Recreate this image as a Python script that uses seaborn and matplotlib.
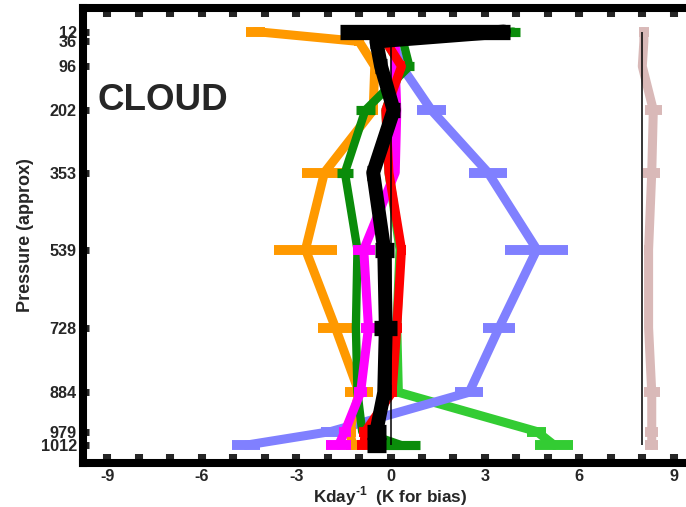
import numpy as np
import pandas as pd
import matplotlib
matplotlib.use("Agg")
import matplotlib.pyplot as plt
import seaborn as sns

# Pressure levels (hPa) and profile values (K/day, K for bias)
levels = [12, 36, 96, 202, 353, 539, 728, 884, 979, 1012]
level_labels = ["12", "36", "96", "202", "353", "539", "728", "884", "979", "1012"]

orange = [-4.3, -1.0, -0.5, -0.55, -2.1, -2.7, -1.75, -1.0, -1.3, -1.2]
orange_err = [0.3, 0.15, 0.1, 0.15, 0.7, 1.0, 0.55, 0.45, 0.2, 0.2]

purple = [0.1, 0.1, 0.35, 1.3, 3.1, 4.65, 3.45, 2.5, -1.9, -4.6]
purple_err = [0.1, 0.1, 0.1, 0.45, 0.6, 1.0, 0.5, 0.45, 0.3, 0.45]

darkgreen = [3.9, 0.4, 0.6, -0.8, -1.45, -1.05, -1.1, -1.05, -0.9, 0.35]
darkgreen_err = [0.2, 0.1, 0.15, 0.3, 0.25, 0.1, 0.1, 0.1, 0.1, 0.6]

lightgreen = [0.0, -0.15, 0.35, -0.15, -0.05, 0.3, 0.2, 0.25, 4.65, 5.2]
lightgreen_err = [0.1, 0.1, 0.1, 0.1, 0.1, 0.1, 0.1, 0.1, 0.3, 0.6]

red = [0.0, -0.15, 0.35, -0.15, -0.05, 0.35, 0.2, 0.05, -0.8, -0.85]
red_err = [0.9, 0.1, 0.1, 0.1, 0.1, 0.15, 0.15, 0.15, 0.2, 0.2]

magenta = [0.15, 0.15, 0.15, 0.2, 0.15, -0.85, -0.7, -0.95, -1.45, -1.65]
magenta_err = [0.1, 0.1, 0.1, 0.1, 0.1, 0.35, 0.25, 0.2, 0.2, 0.4]

black = [3.6, -0.45, -0.3, 0.1, -0.55, -0.2, -0.15, -0.2, -0.45, -0.45]
black_err_lo = [5.2, 0.2, 0.2, 0.2, 0.2, 0.3, 0.37, 0.2, 0.3, 0.3]
black_err_hi = [0.2, 0.2, 0.2, 0.2, 0.2, 0.3, 0.37, 0.2, 0.3, 0.3]

bias = [8.05, 8.05, 8.0, 8.35, 8.3, 8.2, 8.2, 8.3, 8.3, 8.3]
bias_err = [0.15, 0.1, 0.1, 0.27, 0.27, 0.15, 0.1, 0.25, 0.2, 0.2]
bias_ref = 8.0

sns.set_style("white")
plt.rcParams["font.family"] = ["Liberation Sans", "DejaVu Sans"]
plt.rcParams["font.weight"] = "bold"
plt.rcParams["axes.unicode_minus"] = False
plt.rcParams["mathtext.fontset"] = "custom"
plt.rcParams["mathtext.rm"] = "Liberation Sans:bold"
plt.rcParams["mathtext.bf"] = "Liberation Sans:bold"

fig = plt.figure(figsize=(6.86, 5.07), dpi=100)
ax = fig.add_axes([0.121, 0.0868, 0.8965, 0.8975])

series = [
    (lightgreen, lightgreen_err, "#33CC33", 6.5, 2),
    (purple, purple_err, "#8080FF", 6.5, 3),
    (bias, bias_err, "#D9B9B8", 6.5, 3),
    (orange, orange_err, "#FF9900", 6.5, 4),
    (darkgreen, darkgreen_err, "#0A8C0A", 6.0, 5),
    (magenta, magenta_err, "#FF00FF", 6.5, 6),
    (red, red_err, "#FF0000", 6.5, 7),
    (black, [black_err_lo, black_err_hi], "#000000", 10.0, 9),
]

for vals, err, col, lw, z in series:
    df = pd.DataFrame({"value": vals, "pressure": levels})
    sns.lineplot(data=df, x="value", y="pressure", orient="y", sort=False,
                 estimator=None, errorbar=None, color=col, linewidth=lw,
                 ax=ax, zorder=z)
    ax.errorbar(vals, levels, xerr=err, fmt="none", ecolor=col,
                elinewidth=lw * 1.1, capsize=0, zorder=z)

# thin reference lines: zero for the tendencies, offset for the bias
ax.vlines([0, bias_ref], levels[0], levels[-1], colors="black",
          linewidth=1.1, zorder=8)

ax.set_xlim(-9.77, 9.77)
ax.set_ylim(1055, -45)

ax.set_xticks([-9, -6, -3, 0, 3, 6, 9])
ax.set_xticks(np.arange(-9, 10, 1), minor=True)
ax.set_yticks(levels)
ax.set_yticklabels(level_labels)

ax.tick_params(axis="x", which="both", direction="in", length=6.5, width=5.8,
               top=True, bottom=True, labelsize=11.7, pad=4)
ax.tick_params(axis="y", which="both", direction="in", length=4, width=5,
               left=True, right=False, labelsize=11.7, pad=4.5)
for lab in ax.get_xticklabels() + ax.get_yticklabels():
    lab.set_fontweight("bold")

for side in ["left", "bottom", "top", "right"]:
    ax.spines[side].set_linewidth(5.8)
    ax.spines[side].set_color("black")

ax.set_xlabel(r"Kday$^{\text{-1}}$  (K for bias)", fontsize=12.3,
              fontweight="bold", labelpad=0.5)
ax.set_ylabel("Pressure (approx)", fontsize=13, fontweight="bold", labelpad=5)

ax.text(0.024, 0.776, "CLOUD", transform=ax.transAxes, fontsize=26.5,
        fontweight="bold", va="baseline", ha="left")

fig.savefig("out.png", dpi=100)
